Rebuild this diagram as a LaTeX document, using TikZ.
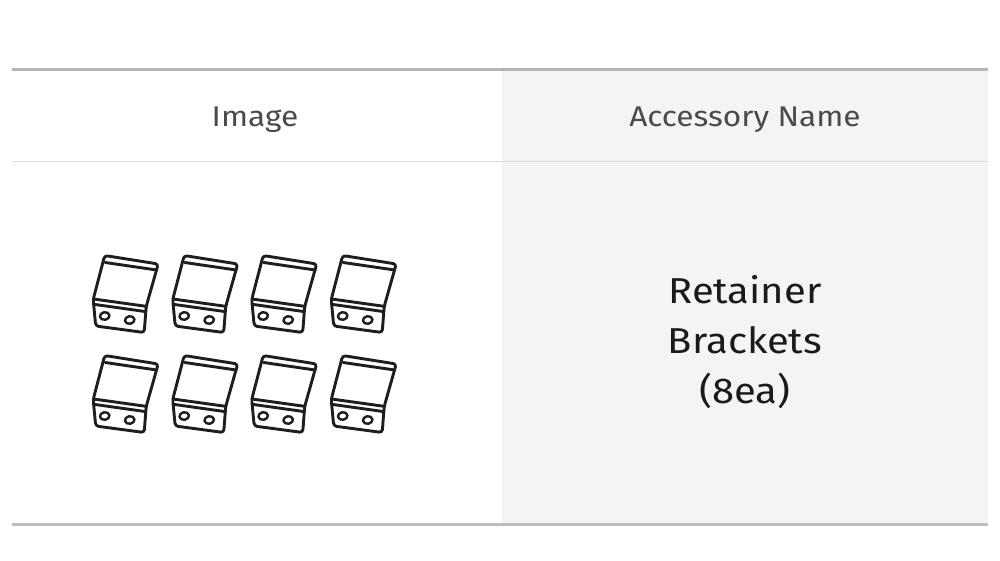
\documentclass[tikz,border=0pt]{standalone}
\usepackage{fontspec}
\setmainfont{Fira Sans}[FakeStretch=1.11]
\definecolor{cellgray}{HTML}{F4F4F6}
\definecolor{rulegray}{HTML}{B6B6B6}
\definecolor{sepgray}{HTML}{DCDCDC}
\definecolor{headtext}{HTML}{4A4A4A}
\definecolor{bodytext}{HTML}{1A1A1A}
\definecolor{inkline}{HTML}{1E1E1E}
\tikzset{
  headlabel/.style={text=headtext, font=\fontsize{28.5}{32}\selectfont, anchor=base, inner sep=0},
  bodylabel/.style={text=bodytext, font=\fontsize{36}{50}\selectfont, anchor=base, inner sep=0},
  inkstroke/.style={draw=inkline, line width=2.9pt, line join=round, line cap=round},
}
\newcommand{\retbracket}[2]{%
  \begin{scope}[shift={(#1,#2)}]
    \draw[inkstroke, rounded corners=3pt] (0,0) -- (53.5,8.5) -- (41.5,51) -- (39.5,77) -- (-9,70.5) -- (-11.5,44) -- cycle;
    \draw[inkstroke] (0.5,7) -- (52,14.5);
    \draw[inkstroke] (-11.2,43.5) -- (41.4,50.8);
    \draw[inkstroke] (-11,48.8) -- (41,56.1);
    \draw[inkstroke, line width=2.4pt, rotate around={10:(0,60.5)}] (0,60.5) ellipse [x radius=4.8, y radius=3.8];
    \draw[inkstroke, line width=2.4pt, rotate around={10:(25,64.5)}] (25,64.5) ellipse [x radius=4.8, y radius=3.8];
  \end{scope}}
\begin{document}
\begin{tikzpicture}[x=1pt,y=-1pt]
  \useasboundingbox (0,0) rectangle (1000,560);
  \fill[white] (0,0) rectangle (1000,560);
  \fill[cellgray] (502,69.5) rectangle (988,524.5);
  \draw[rulegray, line width=2.5pt] (12,69.5) -- (988,69.5);
  \draw[sepgray, line width=1.8pt] (12,161.5) -- (988,161.5);
  \draw[rulegray!90, line width=2.5pt] (12,524.5) -- (988,524.5);
  \node[headlabel] (himg) at (255,126) {Image};
  \node[headlabel] (hname) at (745,126) {Accessory Name};
  \node[bodylabel] (r1) at (745,303) {Retainer};
  \node[bodylabel] (r2) at (745,353) {Brackets};
  \node[bodylabel] (r3) at (745,403) {(8ea)};
  \foreach \cx in {0,79.5,158.5,238}{
    \retbracket{104.7+\cx}{255.5}
    \retbracket{104.7+\cx}{355.5}
  }
\end{tikzpicture}
\end{document}
